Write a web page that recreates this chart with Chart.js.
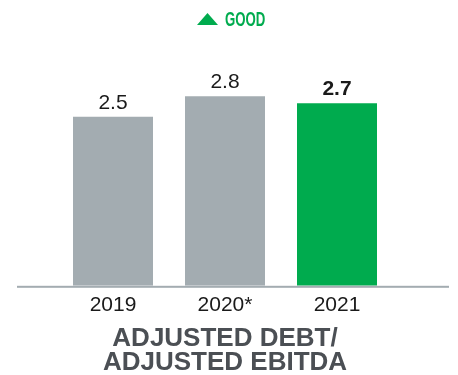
<!DOCTYPE html>
<html>
<head>
<meta charset="utf-8">
<script src="https://cdn.jsdelivr.net/npm/chart.js@4/dist/chart.umd.min.js"></script>
<style>
  html, body { margin: 0; padding: 0; background: #fff; }
  #wrap { width: 458px; height: 375px; position: relative; }
</style>
</head>
<body>
<div id="wrap"><canvas id="chart"></canvas></div>
<script>
var years = ['2019', '2020*', '2021'];
var ratios = [2.5, 2.8, 2.7];
var barColors = ['#a3acb1', '#a3acb1', '#00ab4e'];
var boldLabel = [false, false, true];
var titleLines = ['ADJUSTED DEBT/', 'ADJUSTED EBITDA'];
var badgeText = 'GOOD';

var GREEN = '#00ab4e';
var INK = '#1a1a1a';

// value printed above each bar
var valueLabels = {
    id: 'valueLabels',
    afterDatasetsDraw: function(chart) {
        var ctx = chart.ctx;
        var meta = chart.getDatasetMeta(0);
        ctx.save();
        ctx.textAlign = 'center';
        ctx.textBaseline = 'alphabetic';
        ctx.fillStyle = INK;
        meta.data.forEach(function(bar, i) {
            ctx.font = (boldLabel[i] ? 'bold ' : '') + '21px "Liberation Sans", Arial, sans-serif';
            ctx.fillText(ratios[i].toFixed(1), bar.x, bar.y - 8);
        });
        ctx.restore();
    }
};

// grey baseline across the full width, plus the green "GOOD" badge on top
var decorations = {
    id: 'decorations',
    afterDatasetsDraw: function(chart) {
        var ctx = chart.ctx;
        var y0 = chart.scales.y.getPixelForValue(0);
        ctx.save();
        ctx.fillStyle = '#a3acb1';
        ctx.fillRect(17, y0, 432, 2);

        ctx.fillStyle = GREEN;
        ctx.beginPath();
        ctx.moveTo(197, 25);
        ctx.lineTo(218, 25);
        ctx.lineTo(207.5, 13);
        ctx.closePath();
        ctx.fill();

        // condensed look: squeeze a bold face horizontally
        ctx.translate(225, 26);
        ctx.scale(0.66, 1);
        ctx.font = 'bold 20px "Liberation Sans", Arial, sans-serif';
        ctx.textAlign = 'left';
        ctx.textBaseline = 'alphabetic';
        ctx.fillText(badgeText, 0, 0);
        ctx.restore();
    }
};

var ctx = document.getElementById('chart').getContext('2d');
new Chart(ctx, {
    type: 'bar',
    data: {
        labels: years,
        datasets: [{
            data: ratios,
            backgroundColor: barColors,
            borderWidth: 0,
            categoryPercentage: 1,
            barPercentage: 80 / 112
        }]
    },
    options: {
        responsive: true,
        maintainAspectRatio: false,
        animation: false,
        layout: { padding: { top: 49, left: 57, right: 65, bottom: 0 } },
        plugins: {
            legend: { display: false },
            tooltip: { enabled: false },
            title: {
                display: true,
                position: 'bottom',
                text: titleLines,
                color: '#4b4f54',
                font: { family: '"Liberation Sans", Arial, sans-serif', size: 26, weight: 'bold', lineHeight: 24 / 26 },
                padding: { top: 1.5, bottom: 0.5 }
            }
        },
        scales: {
            x: {
                grid: { display: false, drawTicks: false },
                border: { display: false },
                ticks: {
                    color: INK,
                    padding: 7,
                    font: { family: '"Liberation Sans", Arial, sans-serif', size: 21 }
                }
            },
            y: {
                display: false,
                min: 0,
                max: 3.5
            }
        }
    },
    plugins: [valueLabels, decorations]
});
</script>
</body>
</html>
